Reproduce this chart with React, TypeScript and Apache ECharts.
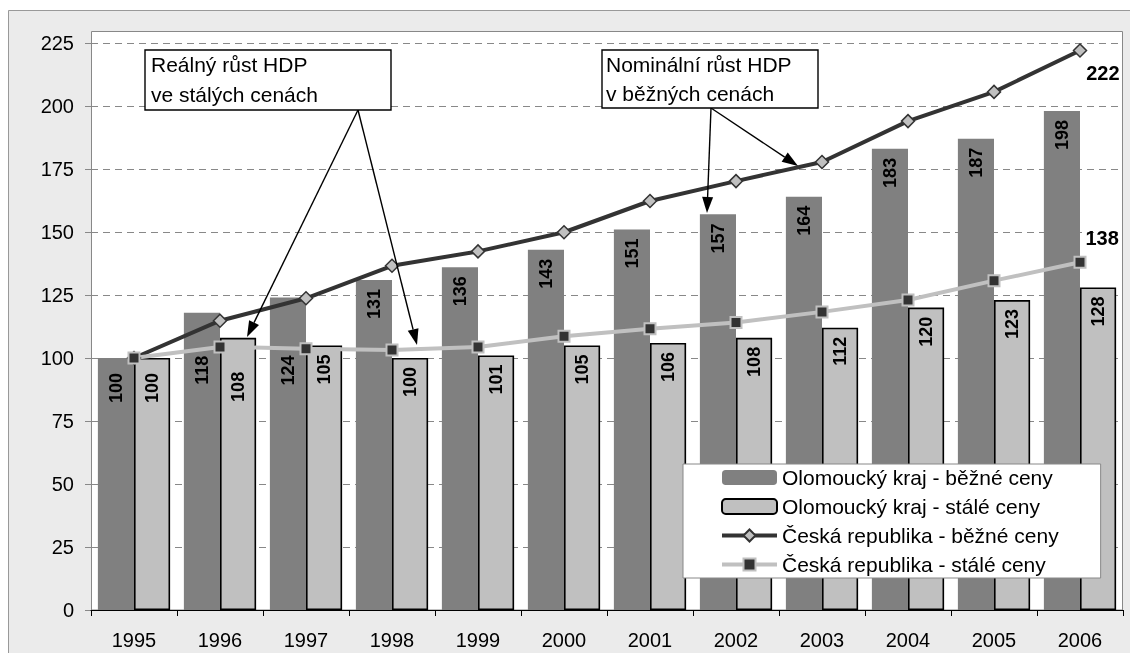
import React, { useEffect, useRef } from 'react';
import * as echarts from 'echarts';

const years = ['1995', '1996', '1997', '1998', '1999', '2000', '2001', '2002', '2003', '2004', '2005', '2006'];
const olomoucBezne = [100, 118, 124, 131, 136, 143, 151, 157, 164, 183, 187, 198];
const olomoucStale = [100, 108, 105, 100, 101, 105, 106, 108, 112, 120, 123, 128];
const crBezne = [100, 114.8, 123.7, 136.6, 142.3, 149.9, 162.3, 170.2, 177.8, 194, 205.6, 222];
const crStale = [100, 104.4, 103.7, 103.2, 104.4, 108.6, 111.6, 114.1, 118.3, 123, 130.7, 138];

const seriesNames = [
  'Olomoucký kraj - běžné ceny',
  'Olomoucký kraj - stálé ceny',
  'Česká republika - běžné ceny',
  'Česká republika - stálé ceny',
];

const annotReal = ['Reálný růst HDP', 've stálých cenách'];
const annotNom = ['Nominální růst HDP', 'v běžných cenách'];

// label distance overrides (style only)
const darkLabelDist: Record<number, number> = { 0: 15, 1: 43, 2: 58 };
const lightLabelDist: Record<number, number> = { 0: 15, 1: 34 };

const FONT = '"Liberation Sans", Arial, sans-serif';

function arrow(x1: number, y1: number, x2: number, y2: number) {
  const dx = x2 - x1;
  const dy = y2 - y1;
  const L = Math.hypot(dx, dy);
  const ux = dx / L;
  const uy = dy / L;
  const hl = 16;
  const hw = 5.5;
  const bx = x2 - ux * hl;
  const by = y2 - uy * hl;
  return [
    {
      type: 'line',
      z: 100,
      shape: { x1, y1, x2: bx, y2: by },
      style: { stroke: '#000', lineWidth: 1.4 },
    },
    {
      type: 'polygon',
      z: 100,
      shape: {
        points: [
          [x2, y2],
          [bx - uy * hw, by + ux * hw],
          [bx + uy * hw, by - ux * hw],
        ],
      },
      style: { fill: '#000' },
    },
  ];
}

function annotBox(x: number, y: number, w: number, h: number, lines: string[], tx: number, ty: number[]) {
  const els: any[] = [
    {
      type: 'rect',
      z: 101,
      shape: { x, y, width: w, height: h },
      style: { fill: '#fff', stroke: '#000', lineWidth: 1.4 },
    },
  ];
  lines.forEach((t, i) => {
    els.push({
      type: 'text',
      z: 102,
      x: tx,
      y: ty[i],
      style: { text: t, fontSize: 21, fontFamily: FONT, fill: '#000', align: 'left', verticalAlign: 'middle' },
    });
  });
  return els;
}

export default function App() {
  const ref = useRef<HTMLDivElement>(null);

  useEffect(() => {
    if (!ref.current) return;
    const chart = echarts.init(ref.current, undefined, { renderer: 'svg' });

    const barLabel = (dist: number) => ({
      show: true,
      position: 'insideTop',
      rotate: 90,
      align: 'right',
      verticalAlign: 'middle',
      distance: dist,
      fontSize: 18,
      fontWeight: 'bold',
      fontFamily: FONT,
      color: '#000',
    });

    const endLabel = (dy: number) => ({
      show: true,
      position: 'right',
      distance: -1,
      offset: [0, dy],
      formatter: (p: any) => String(Math.round(p.value)),
      fontSize: 20,
      fontWeight: 'bold',
      color: '#000',
      fontFamily: FONT,
    });

    const option: any = {
      animation: false,
      textStyle: { fontFamily: FONT },
      grid: { left: 91, right: 7, top: 43, bottom: 43, containLabel: false },
      legend: {
        orient: 'vertical',
        left: 683,
        top: 464,
        padding: [3, 42, 3, 37],
        itemGap: 8,
        itemWidth: 55,
        itemHeight: 15,
        backgroundColor: '#fff',
        borderColor: '#888',
        borderWidth: 1,
        textStyle: { fontSize: 21, color: '#000', fontFamily: FONT },
        data: [
          { name: seriesNames[0] },
          { name: seriesNames[1] },
          { name: seriesNames[2], lineStyle: { width: 4, color: '#333' } },
          { name: seriesNames[3], lineStyle: { width: 4, color: '#c0c0c0' } },
        ],
      },
      xAxis: {
        type: 'category',
        data: years,
        axisLine: { lineStyle: { color: '#000', width: 1 } },
        axisTick: { show: true, length: 6, lineStyle: { color: '#000' } },
        axisLabel: { fontSize: 20, color: '#000', margin: 20, fontFamily: FONT },
        z: 3,
      },
      yAxis: {
        type: 'value',
        min: 0,
        max: 225,
        interval: 25,
        axisLine: { show: true, lineStyle: { color: '#888' } },
        axisTick: { show: true, length: 6, lineStyle: { color: '#888' } },
        axisLabel: { fontSize: 20, color: '#000', margin: 17, fontFamily: FONT },
        splitLine: { show: true, lineStyle: { color: '#888', type: [7, 5], width: 1 } },
      },
      graphic: [
        {
          type: 'rect',
          z: -10,
          silent: true,
          shape: { x: 8.5, y: 10.5, width: 1140, height: 660 },
          style: { fill: '#ebebeb', stroke: '#999', lineWidth: 1 },
        },
        {
          type: 'rect',
          z: -9,
          silent: true,
          shape: { x: 91.5, y: 31.5, width: 1031, height: 578.5 },
          style: { fill: '#fff', stroke: '#888', lineWidth: 1 },
        },
        ...annotBox(145, 50, 246, 60, annotReal, 151, [64, 94]),
        ...annotBox(602, 50, 216, 58, annotNom, 606, [64, 93]),
        ...arrow(358, 110, 247, 337),
        ...arrow(358, 110, 417, 345),
        ...arrow(711, 108, 707, 213),
        ...arrow(711, 108, 798, 166),
      ],
      series: [
        {
          name: seriesNames[0],
          type: 'bar',
          data: olomoucBezne.map((v, i) => ({ value: v, label: barLabel(darkLabelDist[i] ?? 9) })),
          barGap: '0%',
          barCategoryGap: '16%',
          itemStyle: { color: '#808080' },
          z: 2,
        },
        {
          name: seriesNames[1],
          type: 'bar',
          data: olomoucStale.map((v, i) => ({ value: v, label: barLabel(lightLabelDist[i] ?? 9) })),
          barGap: '0%',
          barCategoryGap: '16%',
          itemStyle: { color: '#c0c0c0', borderColor: '#000', borderWidth: 1.6 },
          z: 2,
        },
        {
          name: seriesNames[2],
          type: 'line',
          data: crBezne.map((v, i) => (i === crBezne.length - 1 ? { value: v, label: endLabel(22) } : v)),
          symbol: 'diamond',
          symbolSize: 13,
          lineStyle: { color: '#333', width: 4 },
          itemStyle: { color: '#c0c0c0', borderColor: '#333', borderWidth: 1.5 },
          z: 5,
        },
        {
          name: seriesNames[3],
          type: 'line',
          data: crStale.map((v, i) => (i === crStale.length - 1 ? { value: v, label: endLabel(-24) } : v)),
          symbol: 'rect',
          symbolSize: 11,
          lineStyle: { color: '#c0c0c0', width: 4 },
          itemStyle: { color: '#333', borderColor: '#c0c0c0', borderWidth: 2 },
          z: 5,
        },
      ],
    };

    chart.setOption(option);
    return () => chart.dispose();
  }, []);

  return (
    <div
      ref={ref}
      style={{ position: 'fixed', left: 0, top: 0, width: 1130, height: 653 }}
    />
  );
}
